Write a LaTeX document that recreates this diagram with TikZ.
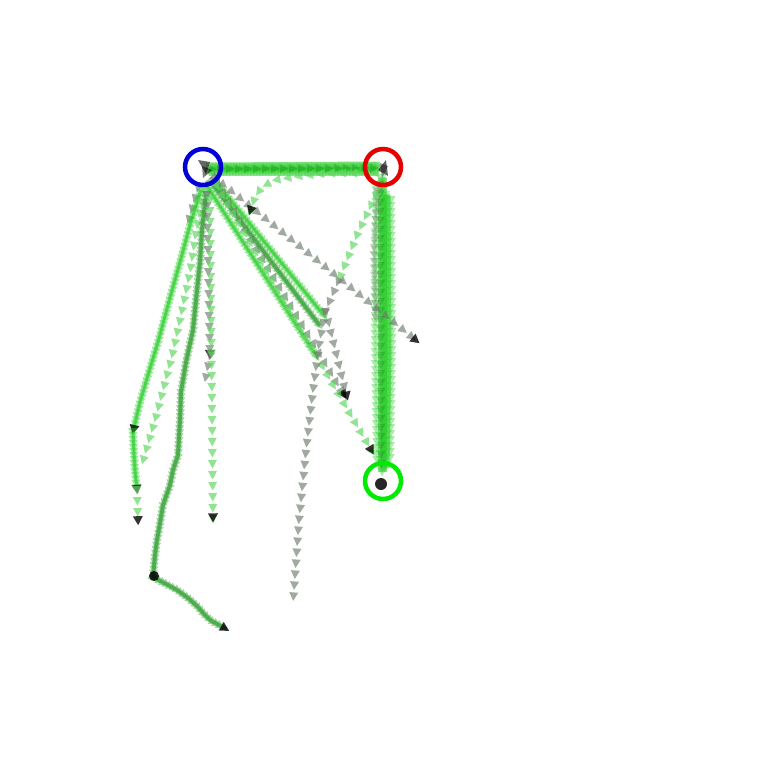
\documentclass[tikz,border=0pt]{standalone}
\usetikzlibrary{decorations.markings}
\definecolor{pale}{RGB}{100,215,100}
\definecolor{mid}{RGB}{50,160,50}
\definecolor{bright}{RGB}{40,205,40}
\definecolor{ash}{RGB}{110,125,110}
\definecolor{goalblue}{RGB}{0,0,215}
\definecolor{goalred}{RGB}{230,0,0}
\definecolor{goallime}{RGB}{0,235,0}
\begin{document}
\begin{tikzpicture}[x=1pt, y=-1pt,
  trail/.style 2 args={postaction={decorate, decoration={markings,
    mark=between positions 0 and 1 step #2 with {\fill[#1] (-4,-4.5)--(4.5,0)--(-4,4.5)--cycle;}}}},
  stop/.style={postaction={decorate, decoration={markings,
    mark=at position 0.99 with {\fill[black, opacity=.8] (-4.5,-5)--(4.5,0)--(-4.5,5)--cycle;}}}},
  grey run/.style={trail={{ash, opacity=.65}}{11pt}},
  pale run/.style={trail={{pale, opacity=.7}}{11pt}},
  bright run/.style={draw=bright, line width=3pt, draw opacity=.5, trail={{bright, opacity=.45}}{4pt}},
  mid run/.style={draw=mid, line width=4pt, draw opacity=.6, trail={{mid, opacity=.45}}{4pt}},
  band/.style={draw=bright, line width=9pt, draw opacity=.55, trail={{bright, opacity=.35}}{3pt}},
  fleck/.style={trail={{green!35!black, opacity=.2}}{9pt}},
  goal/.style={line width=4.5pt}]
\useasboundingbox (0,0) rectangle (768,768);

% Goals
\coordinate (blue) at (203,167);
\coordinate (red) at (383,167);
\coordinate (lime) at (383,481);

% Main corridors
\path[band] (210,167) -- (380,166);
\path[band] (209,171) -- (378,171);
\path[fleck] (212,169) -- (378,168);
\path[band] (382,178) -- (382,330) -- (382,472);
\path[band] (386,195) -- (387,350) -- (385,468);
\path[fleck] (380,185) -- (381,470);
\path[trail={{bright, opacity=.4}}{6pt}] (376,190) -- (375,330) -- (377,460);
\path[trail={{bright, opacity=.4}}{6pt}] (391,200) -- (392,340) -- (390,460);
\path[trail={{ash, opacity=.35}}{7pt}] (378,185) -- (374,250) -- (376,320);

% Diagonal runs from blue
\path[mid run] (211,182) -- (320,326);
\path[bright run] (216,182) -- (326,318);
\path[bright run] (207,186) -- (317,357);
\path[grey run, stop] (215,178) -- (418,342);
\path[grey run, stop] (218,184) -- (345,397);
\path[pale run, stop] (217,186) -- (373,453);

% Returns from red
\path[pale run, stop] (375,173) -- (330,173) -- (300,176) -- (275,180) -- (262,187) -- (255,197) -- (250,212);
\path[pale run] (380,186) -- (357,235) -- (338,282);
\path[grey run] (338,282) -- (325,312) -- (319,345) -- (313,390) -- (306,450) -- (299,520) -- (293,603);
\path[grey run, stop] (326,312) -- (347,397);

% Runs down the left
\path[grey run] (198,188) -- (186,230);
\path[bright run, stop] (201,190) -- (190,225) -- (180,262) -- (168,305) -- (158,342) -- (148,375) -- (140,402) -- (133,432);
\path[bright run, stop] (133,432) -- (134,455) -- (135,470) -- (137,490);
\path[pale run, stop] (137,490) -- (138,521);
\path[pale run] (204,192) -- (196,232) -- (190,272) -- (181,315) -- (172,356) -- (163,390) -- (155,420) -- (142,464);
\path[mid run] (206,195) -- (202,230) -- (200,262) -- (197,290) -- (193,330) -- (186,362) -- (181,392) -- (180,420) -- (178,455) -- (173,470) -- (170,485) -- (163,505) -- (160,523) -- (157,540) -- (155,555) -- (153,577);
\path[mid run, stop] (153,577) -- (166,584) -- (177,590) -- (188,598) -- (197,606) -- (204,614) -- (210,620) -- (226,629);
\fill[black, opacity=.85] (154,576) circle (5pt);
\path[grey run, stop] (207,195) -- (210,356);
\path[grey run] (210,356) -- (204,386);
\path[pale run, stop] (210,200) -- (213,521);

% Clusters at the goals
\fill[black, opacity=.6] (198,160) -- (210,162) -- (206,174) -- cycle;
\fill[black, opacity=.5] (202,166) -- (212,170) -- (203,178) -- cycle;
\fill[black, opacity=.6] (386,160) -- (388,176) -- (378,170) -- cycle;
\fill[black, opacity=.4] (380,163) -- (388,166) -- (382,178) -- cycle;
\fill[black, opacity=.85] (381,484) circle (6pt);

% Goal rings
\draw[goal, goalblue] (blue) circle (18pt);
\draw[goal, goalred] (red) circle (18pt);
\draw[goal, goallime] (lime) circle (18pt);

\end{tikzpicture}
\end{document}
